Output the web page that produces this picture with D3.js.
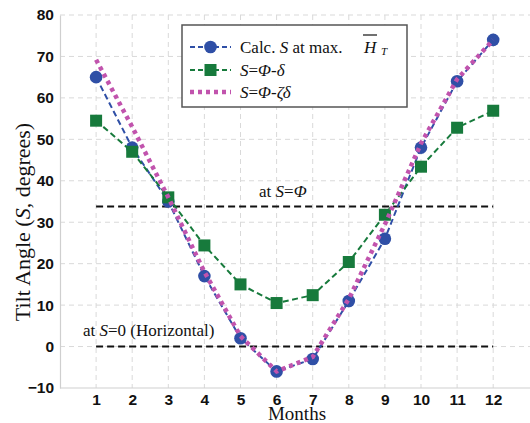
<!DOCTYPE html>
<html>
<head>
<meta charset="utf-8">
<script src="https://cdn.jsdelivr.net/npm/d3@7"></script>
<style>
  body { margin: 0; background: #fff; }
  svg { display: block; }
  .serif { font-family: "Liberation Serif", "Times New Roman", serif; fill: #111; }
</style>
</head>
<body>
<svg id="chart" width="530" height="423"></svg>
<script>
// Monthly tilt angles (degrees)
const months = [1, 2, 3, 4, 5, 6, 7, 8, 9, 10, 11, 12];
const calcS = [65, 48, 35, 17, 2, -6, -3, 11, 26, 48, 64, 74];
const phiMinusDelta = [54.5, 47, 36, 24.4, 15, 10.5, 12.4, 20.4, 31.8, 43.4, 52.8, 56.9];
const phiMinusZetaDelta = [69.2, 53, 36, 18, 2.5, -6, -2.5, 11.5, 29.5, 49, 64.5, 74];
const latitudeS = 33.8;
const yTicks = [-10, 0, 10, 20, 30, 40, 50, 60, 70, 80];

const svg = d3.select("#chart");
const W = 530;

const x = d3.scaleLinear().domain([0, 13]).range([60, 529.3]);
const y = d3.scaleLinear().domain([-10, 80]).range([388, 15]);

const sans = "'Liberation Sans', Arial, sans-serif";

// grid
const grid = svg.append("g");
grid.selectAll("line.v").data(months).join("line")
  .attr("x1", d => x(d)).attr("x2", d => x(d))
  .attr("y1", y(80)).attr("y2", y(-10))
  .attr("stroke", "#d9d9d9").attr("stroke-width", 1).attr("stroke-dasharray", "5,4");
grid.selectAll("line.h").data(yTicks.slice(1)).join("line")
  .attr("x1", x(0)).attr("x2", W)
  .attr("y1", d => y(d)).attr("y2", d => y(d))
  .attr("stroke", "#d9d9d9").attr("stroke-width", 1).attr("stroke-dasharray", "5,4");

// axes
const yAxis = svg.append("g").attr("transform", `translate(${x(0)},0)`)
  .call(d3.axisLeft(y).tickValues(yTicks).tickSize(0).tickPadding(6));
const xAxis = svg.append("g").attr("transform", `translate(0,${y(-10)})`)
  .call(d3.axisBottom(x).tickValues(months).tickSize(0).tickPadding(6));
xAxis.select(".domain").attr("d", `M${x(0)},0H${W}`);
[yAxis, xAxis].forEach(a => {
  a.select(".domain").attr("stroke", "#cfcfcf").attr("stroke-width", 1.2);
  a.selectAll("text").attr("font-family", sans).attr("font-weight", "bold")
    .attr("font-size", 15.5).attr("fill", "#111");
});

// reference lines
const refs = [latitudeS, 0];
svg.selectAll("line.ref").data(refs).join("line")
  .attr("x1", x(1)).attr("x2", x(12))
  .attr("y1", d => y(d)).attr("y2", d => y(d))
  .attr("stroke", "#111").attr("stroke-width", 2).attr("stroke-dasharray", "7,4");

svg.append("text").attr("class", "serif").attr("x", 259).attr("y", y(latitudeS) - 9)
  .attr("font-size", 17)
  .html('at <tspan font-style="italic">S</tspan>=<tspan font-style="italic">Φ</tspan>');
svg.append("text").attr("class", "serif").attr("x", 83).attr("y", y(0) - 11)
  .attr("font-size", 17)
  .html('at <tspan font-style="italic">S</tspan>=0 (Horizontal)');

const line = d3.line().x((d, i) => x(months[i])).y(d => y(d));

// calculated tilt at max H_T
const blue = "#2f4fa6";
svg.append("path").datum(calcS).attr("d", line)
  .attr("fill", "none").attr("stroke", blue).attr("stroke-width", 2).attr("stroke-dasharray", "6,3.5");
svg.selectAll("circle.calc").data(calcS).join("circle")
  .attr("cx", (d, i) => x(months[i])).attr("cy", d => y(d)).attr("r", 6.3)
  .attr("fill", blue);

// S = Φ - δ
const green = "#177a3c";
svg.append("path").datum(phiMinusDelta).attr("d", line)
  .attr("fill", "none").attr("stroke", green).attr("stroke-width", 2).attr("stroke-dasharray", "6,3.5");
svg.selectAll("rect.pd").data(phiMinusDelta).join("rect")
  .attr("x", (d, i) => x(months[i]) - 6).attr("y", d => y(d) - 6)
  .attr("width", 12).attr("height", 12).attr("fill", green);

// S = Φ - ζδ
const magenta = "#c153ad";
svg.append("path").datum(phiMinusZetaDelta).attr("d", line)
  .attr("fill", "none").attr("stroke", magenta).attr("stroke-width", 4.5).attr("stroke-dasharray", "4,4");

// axis titles
svg.append("text").attr("class", "serif").attr("x", 297).attr("y", 420).attr("text-anchor", "middle")
  .attr("font-size", 19).text("Months");
svg.append("text").attr("class", "serif").attr("transform", "translate(30,222) rotate(-90)")
  .attr("text-anchor", "middle").attr("font-size", 22)
  .html('Tilt Angle (<tspan font-style="italic">S</tspan>, degrees)');

// legend
const lg = svg.append("g");
lg.append("rect").attr("x", 182).attr("y", 25).attr("width", 225).attr("height", 82)
  .attr("fill", "#fff").attr("stroke", "#555").attr("stroke-width", 1.5);
const rows = [47, 70, 92];
lg.append("line").attr("x1", 190).attr("x2", 231).attr("y1", rows[0]).attr("y2", rows[0])
  .attr("stroke", blue).attr("stroke-width", 2).attr("stroke-dasharray", "5,3");
lg.append("circle").attr("cx", 210.5).attr("cy", rows[0]).attr("r", 6.3).attr("fill", blue);
lg.append("line").attr("x1", 190).attr("x2", 231).attr("y1", rows[1]).attr("y2", rows[1])
  .attr("stroke", green).attr("stroke-width", 2).attr("stroke-dasharray", "5,3");
lg.append("rect").attr("x", 204.5).attr("y", rows[1] - 6).attr("width", 12).attr("height", 12).attr("fill", green);
lg.append("line").attr("x1", 190).attr("x2", 231).attr("y1", rows[2]).attr("y2", rows[2])
  .attr("stroke", magenta).attr("stroke-width", 4.5).attr("stroke-dasharray", "4,4");

const lt = (yy, html) => lg.append("text").attr("class", "serif").attr("x", 240).attr("y", yy + 6)
  .attr("font-size", 17).html(html);
lt(rows[0], 'Calc. <tspan font-style="italic">S</tspan> at max.');
lg.append("text").attr("class", "serif").attr("x", 364).attr("y", rows[0] + 6)
  .attr("font-size", 17).attr("font-style", "italic").text("H");
lg.append("line").attr("x1", 363).attr("x2", 377).attr("y1", 35).attr("y2", 35)
  .attr("stroke", "#111").attr("stroke-width", 1.2);
lg.append("text").attr("class", "serif").attr("x", 381).attr("y", rows[0] + 8)
  .attr("font-size", 11).attr("font-style", "italic").text("T");
lt(rows[1], '<tspan font-style="italic">S</tspan>=<tspan font-style="italic">Φ</tspan>-<tspan font-style="italic">δ</tspan>');
lt(rows[2], '<tspan font-style="italic">S</tspan>=<tspan font-style="italic">Φ</tspan>-<tspan font-style="italic">ζδ</tspan>');
</script>
</body>
</html>
